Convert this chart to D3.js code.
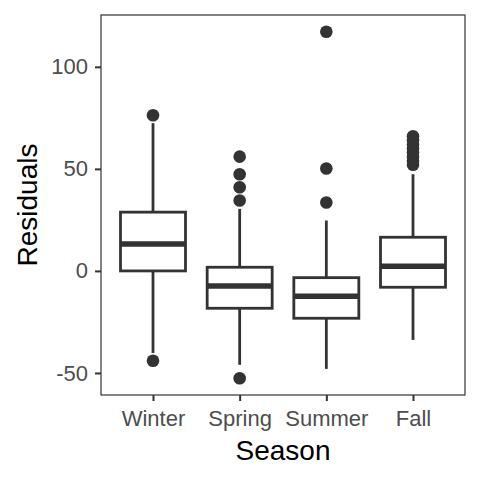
<!DOCTYPE html>
<html>
<head>
<meta charset="utf-8">
<script src="https://cdn.jsdelivr.net/npm/d3@7.9.0/dist/d3.min.js"></script>
<style>
  body { margin: 0; background: #fff; }
  svg text { font-family: "Liberation Sans", Arial, sans-serif; }
</style>
</head>
<body>
<svg width="480" height="480"></svg>
<script>
// seasons and their box stats
const seasons = ['Winter', 'Spring', 'Summer', 'Fall'];
const q1 = [0, -18.3, -23.2, -8];
const medians = [13.2, -7.4, -12.4, 2.3];
const q3 = [28.8, 1.8, -3.3, 16.5];
const whiskerLow = [-40.2, -46, -48, -33.8];
const whiskerHigh = [72.4, 30.4, 24.7, 47.4];
const outliers = [
  [76.3, -44],
  [56, 47.4, 41, 34.5, -52.6],
  [117.2, 50.2, 33.5],
  [66, 64, 62, 60, 58, 56, 54, 52]
];
const yTicks = [-50, 0, 50, 100];

const svg = d3.select('svg');
const margin = {left: 101, right: 15, top: 15, bottom: 85};
const width = 480 - margin.left - margin.right;
const height = 480 - margin.top - margin.bottom;
const g = svg.append('g').attr('transform', `translate(${margin.left},${margin.top})`);

// ggplot-style discrete expansion of 0.6 units on each side
let x = d3.scalePoint().domain(seasons).range([0, width]).padding(0.6);
let y = d3.scaleLinear().domain([-60.8, 125.4]).range([height, 0]);

const ink = '#333333';
const bw = x.step() * 0.75;

// boxes
seasons.forEach((s, i) => {
  let cx = x(s);
  let box = g.append('g');
  box.append('line')
    .attr('x1', cx).attr('x2', cx)
    .attr('y1', y(q3[i])).attr('y2', y(whiskerHigh[i]))
    .attr('stroke', ink).attr('stroke-width', 2.8);
  box.append('line')
    .attr('x1', cx).attr('x2', cx)
    .attr('y1', y(q1[i])).attr('y2', y(whiskerLow[i]))
    .attr('stroke', ink).attr('stroke-width', 2.8);
  box.append('rect')
    .attr('x', cx - bw / 2).attr('width', bw)
    .attr('y', y(q3[i])).attr('height', y(q1[i]) - y(q3[i]))
    .attr('fill', '#fff').attr('stroke', ink).attr('stroke-width', 2.8);
  box.append('line')
    .attr('x1', cx - bw / 2).attr('x2', cx + bw / 2)
    .attr('y1', y(medians[i])).attr('y2', y(medians[i]))
    .attr('stroke', ink).attr('stroke-width', 5.5);
  box.selectAll('circle')
    .data(outliers[i])
    .join('circle')
    .attr('cx', cx)
    .attr('cy', d => y(d))
    .attr('r', 6.3)
    .attr('fill', ink);
});

// panel border
g.append('rect')
  .attr('width', width).attr('height', height)
  .attr('fill', 'none').attr('stroke', ink).attr('stroke-width', 1.2);

// axes
let yAxis = g.append('g')
  .call(d3.axisLeft(y).tickValues(yTicks).tickFormat(d => String(d)).tickSize(6).tickPadding(7));
let xAxis = g.append('g')
  .attr('transform', `translate(0,${height})`)
  .call(d3.axisBottom(x).tickSize(6).tickPadding(9));

[yAxis, xAxis].forEach(a => {
  a.select('.domain').remove();
  a.selectAll('line').attr('stroke', ink).attr('stroke-width', 2);
  a.selectAll('text').attr('fill', '#4d4d4d').style('font-size', '22px');
});

svg.append('text')
  .attr('x', margin.left + width / 2)
  .attr('y', 460)
  .attr('text-anchor', 'middle')
  .style('font-size', '28px')
  .text('Season');

svg.append('text')
  .attr('transform', `translate(37,${margin.top + height / 2}) rotate(-90)`)
  .attr('text-anchor', 'middle')
  .style('font-size', '28px')
  .text('Residuals');
</script>
</body>
</html>
